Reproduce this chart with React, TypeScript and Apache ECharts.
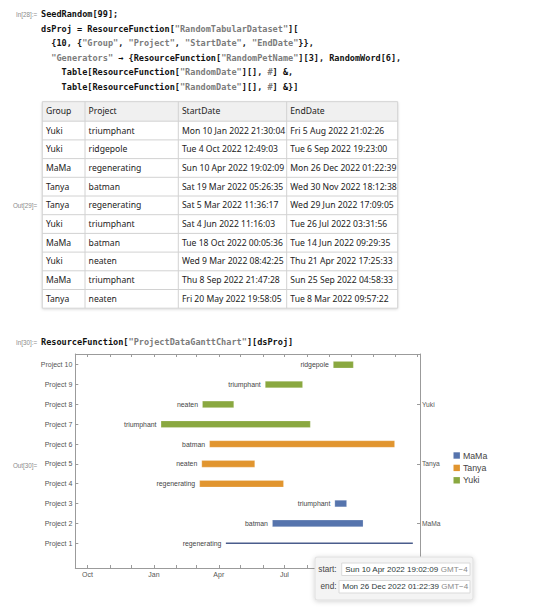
import React, { useEffect, useRef } from "react";
import * as echarts from "echarts";

// ---------- data ----------
const headers = ["Group", "Project", "StartDate", "EndDate"];
const groups = ["Yuki", "Yuki", "MaMa", "Tanya", "Tanya", "Yuki", "MaMa", "Yuki", "MaMa", "Tanya"];
const projects = ["triumphant", "ridgepole", "regenerating", "batman", "regenerating", "triumphant", "batman", "neaten", "triumphant", "neaten"];
const startDates = [
  "Mon 10 Jan 2022 21:30:04", "Tue 4 Oct 2022 12:49:03", "Sun 10 Apr 2022 19:02:09", "Sat 19 Mar 2022 05:26:35",
  "Sat 5 Mar 2022 11:36:17", "Sat 4 Jun 2022 11:16:03", "Tue 18 Oct 2022 00:05:36", "Wed 9 Mar 2022 08:42:25",
  "Thu 8 Sep 2022 21:47:28", "Fri 20 May 2022 19:58:05",
];
const endDates = [
  "Fri 5 Aug 2022 21:02:26", "Tue 6 Sep 2022 19:23:00", "Mon 26 Dec 2022 01:22:39", "Wed 30 Nov 2022 18:12:38",
  "Wed 29 Jun 2022 17:09:05", "Tue 26 Jul 2022 03:31:56", "Tue 14 Jun 2022 09:29:35", "Thu 21 Apr 2022 17:25:33",
  "Sun 25 Sep 2022 04:58:33", "Tue 8 Mar 2022 09:57:22",
];
const groupOrder = ["MaMa", "Tanya", "Yuki"];
const groupColors = ["#5674ad", "#e1952f", "#8aa840"];
const highlightedRow = 2; // row shown in the tooltip box
const timeZoneSuffix = " GMT\u22124";
const xAxisStart = "2021-09-14";
const xAxisEnd = "2023-01-05";
const xLabelDates = ["2021-10-01", "2022-01-01", "2022-04-01", "2022-07-01"];
const monthNames = ["Jan", "Feb", "Mar", "Apr", "May", "Jun", "Jul", "Aug", "Sep", "Oct", "Nov", "Dec"];

const codeCell1 = [
  { indent: 0, text: "SeedRandom[99];" },
  { indent: 0, text: 'dsProj = ResourceFunction["RandomTabularDataset"][' },
  { indent: 2, text: '{10, {"Group", "Project", "StartDate", "EndDate"}},' },
  { indent: 2, text: '"Generators" \u2192 {ResourceFunction["RandomPetName"][3], RandomWord[6],' },
  { indent: 4, text: 'Table[ResourceFunction["RandomDate"][], #] &,' },
  { indent: 4, text: 'Table[ResourceFunction["RandomDate"][], #] &}]' },
];
const codeCell2 = 'ResourceFunction["ProjectDataGanttChart"][dsProj]';
const cellLabels = [
  { text: "In[28]:=", y: 14.3 },
  { text: "Out[29]=", y: 205 },
  { text: "In[30]:=", y: 342 },
  { text: "Out[30]=", y: 465 },
];

// ---------- helpers ----------
function parseDate(s: string): number {
  const [, d, m, y, t] = s.split(" ");
  const [hh, mm, ss] = t.split(":").map(Number);
  return new Date(+y, monthNames.indexOf(m), +d, hh, mm, ss).getTime();
}
function parseDay(s: string): number {
  const [y, m, d] = s.split("-").map(Number);
  return new Date(y, m - 1, d).getTime();
}

const MONO = "'DejaVu Sans Mono', monospace";
const SANS = "'Liberation Sans', Arial, sans-serif";
const TSANS = "'Noto Sans', sans-serif";
const CW = 8.55 * 0.602;

function codeLine(text: string, x0: number, y: number): any[] {
  const parts = text.split(/("[^"]*"|#)/).filter((p) => p.length > 0);
  const out: any[] = [];
  let n = 0;
  for (const p of parts) {
    const gray = p.startsWith('"') || p === "#";
    out.push({
      type: "text",
      x: x0 + n * CW,
      y,
      style: {
        text: p,
        fontFamily: MONO,
        fontSize: 8.55,
        fontWeight: "bold",
        fill: gray ? "#7b7b7b" : "#111",
        verticalAlign: "middle",
      },
    });
    n += p.length;
  }
  return out;
}

export default function App() {
  const ref = useRef<HTMLDivElement>(null);
  useEffect(() => {
    document.body.style.margin = "0";
    const chart = echarts.init(ref.current!, null, { renderer: "svg" });

    // rows for the gantt: ordered by group, then by earliest date
    const rows = groups.map((g, i) => {
      const a = parseDate(startDates[i]);
      const b = parseDate(endDates[i]);
      return { i, g, lo: Math.min(a, b), hi: Math.max(a, b) };
    });
    rows.sort((p, q) => groupOrder.indexOf(p.g) - groupOrder.indexOf(q.g) || p.lo - q.lo);
    const yPos: Record<number, number> = {};
    rows.forEach((r, k) => (yPos[r.i] = k + 1));
    const groupAxis: Record<number, string> = {};
    groupOrder.forEach((g) => {
      const ys = rows.map((r, k) => (r.g === g ? k + 1 : 0)).filter((v) => v > 0);
      groupAxis[ys[0] + Math.floor((ys.length - 1) / 2)] = g;
    });
    const groupTicks = Object.keys(groupAxis).map(Number);
    const projectTicks = rows.map((_, k) => k + 1);

    const monthTicks: number[] = [];
    for (let k = 0; k < 16; k++) monthTicks.push(new Date(2021, 9 + k, 1).getTime());
    const quarterTicks = xLabelDates.map(parseDay);
    const xMin = parseDay(xAxisStart);
    const xMax = parseDay(xAxisEnd);

    const axisLine = { show: true, onZero: false, lineStyle: { color: "#9b9b9b", width: 1 } };

    const series = groupOrder.map((g, gi) => ({
      type: "custom",
      name: g,
      xAxisIndex: 0,
      yAxisIndex: 0,
      clip: false,
      itemStyle: { color: groupColors[gi] },
      encode: { x: [0, 1], y: 2 },
      data: rows.filter((r) => r.g === g).map((r) => [r.lo, r.hi, yPos[r.i], r.i]),
      renderItem: (params: any, api: any) => {
        const p0 = api.coord([api.value(0), api.value(2)]);
        const p1 = api.coord([api.value(1), api.value(2)]);
        const idx = api.value(3);
        const hl = idx === highlightedRow;
        const h = hl ? 1.6 : 6.6;
        return {
          type: "group",
          children: [
            {
              type: "rect",
              shape: { x: p0[0], y: p0[1] - h / 2, width: p1[0] - p0[0], height: h },
              style: hl
                ? { fill: "#4a5d8c" }
                : { fill: groupColors[gi], stroke: "rgba(255,255,255,0.35)", lineWidth: 0.6 },
            },
            {
              type: "text",
              style: {
                text: projects[idx],
                x: p0[0] - 4.5,
                y: p0[1],
                align: "right",
                verticalAlign: "middle",
                fontFamily: SANS,
                fontSize: 6.9,
                fill: "#444",
              },
            },
          ],
        };
      },
    }));

    // ---------- graphic: notebook cells ----------
    const graphics: any[] = [];
    cellLabels.forEach((c) =>
      graphics.push({
        type: "text",
        x: 37.3,
        y: c.y,
        style: { text: c.text, fontFamily: SANS, fontSize: 6.3, fill: "#8a8a8a", align: "right", verticalAlign: "middle" },
      })
    );
    const codeY = [14.3, 28.7, 43, 57.5, 72, 86.5];
    codeCell1.forEach((l, k) => graphics.push(...codeLine(l.text, 41 + l.indent * CW, codeY[k])));
    graphics.push(...codeLine(codeCell2, 41, 341.7));

    // table
    const colX = [42.3, 85, 178.3, 286.7, 397.7];
    const tTop = 101.7;
    const headH = 19.5;
    const rowH = 18.7;
    const tBottom = tTop + headH + rowH * groups.length;
    graphics.push({
      type: "rect",
      shape: { x: colX[0], y: tTop, width: colX[4] - colX[0], height: tBottom - tTop },
      style: { fill: "#fff", shadowBlur: 3, shadowColor: "rgba(0,0,0,0.18)", shadowOffsetY: 1 },
    });
    graphics.push({
      type: "rect",
      shape: { x: colX[0], y: tTop, width: colX[4] - colX[0], height: headH },
      style: { fill: "#f0f0f0" },
    });
    for (let r = 0; r <= groups.length + 1; r++) {
      const y = r === 0 ? tTop : tTop + headH + rowH * (r - 1);
      graphics.push({
        type: "line",
        shape: { x1: colX[0], y1: y, x2: colX[4], y2: y },
        style: { stroke: "#d2d2d2", lineWidth: 1 },
      });
    }
    colX.forEach((x) =>
      graphics.push({
        type: "line",
        shape: { x1: x, y1: tTop, x2: x, y2: tBottom },
        style: { stroke: "#d2d2d2", lineWidth: 1 },
      })
    );
    const cols = [groups, projects, startDates, endDates];
    headers.forEach((h, c) =>
      graphics.push({
        type: "text",
        x: colX[c] + 3.6,
        y: tTop + headH / 2,
        style: { text: h, fontFamily: TSANS, fontSize: 8.6, fill: "#222", verticalAlign: "middle" },
      })
    );
    cols.forEach((col, c) =>
      col.forEach((v, r) =>
        graphics.push({
          type: "text",
          x: colX[c] + 3.6,
          y: tTop + headH + rowH * r + rowH / 2,
          style: { text: v, fontFamily: TSANS, fontSize: 8.6, fill: "#222", verticalAlign: "middle" },
        })
      )
    );

    // tooltip-like box for highlighted project
    const tip = [
      { label: "start:", value: startDates[highlightedRow], fx: 341.7, fy: 563, fw: 128.3 },
      { label: "end:", value: endDates[highlightedRow], fx: 339, fy: 580.5, fw: 131 },
    ];
    graphics.push({
      type: "rect",
      z: 100,
      shape: { x: 315, y: 557, width: 158, height: 43, r: 2 },
      style: { fill: "#f4f4f4", stroke: "#dedede", lineWidth: 1, shadowBlur: 5, shadowColor: "rgba(0,0,0,0.18)", shadowOffsetY: 1 },
    });
    tip.forEach((t) => {
      graphics.push({
        type: "rect",
        z: 101,
        shape: { x: t.fx, y: t.fy, width: t.fw, height: 12.5 },
        style: { fill: "#fff", stroke: "#dadada", lineWidth: 1 },
      });
      graphics.push({
        type: "text",
        z: 102,
        x: 336.5,
        y: t.fy + 6.3,
        style: { text: t.label, fontFamily: SANS, fontSize: 8.2, fill: "#444", align: "right", verticalAlign: "middle" },
      });
      graphics.push({
        type: "text",
        z: 102,
        x: t.fx + 3.5,
        y: t.fy + 6.3,
        style: {
          text: "{a|" + t.value + "}{b|" + timeZoneSuffix + "}",
          verticalAlign: "middle",
          rich: {
            a: { fontFamily: SANS, fontSize: 8, fill: "#2c3a3a", color: "#2c3a3a" },
            b: { fontFamily: SANS, fontSize: 8, fill: "#8a8a8a", color: "#8a8a8a" },
          },
        },
      });
    });

    const tickStyle = { show: true, inside: true, length: 3, lineStyle: { color: "#9b9b9b" } };

    const option: any = {
      animation: false,
      backgroundColor: "#fff",
      grid: { left: 75.3, right: 120, top: 354, bottom: 43, containLabel: false },
      legend: {
        data: groupOrder,
        orient: "vertical",
        left: 448.5,
        top: 446,
        icon: "rect",
        itemWidth: 6.4,
        itemHeight: 6.4,
        itemGap: 3.4,
        textStyle: { fontFamily: SANS, fontSize: 8.8, color: "#444", padding: [0, 0, 0, -2] },
      },
      xAxis: [
        {
          type: "value",
          position: "bottom",
          min: xMin,
          max: xMax,
          scale: true,
          axisLine,
          splitLine: { show: false },
          axisTick: { ...tickStyle, customValues: monthTicks },
          axisLabel: {
            customValues: quarterTicks,
            formatter: (v: number) => monthNames[new Date(v).getMonth()],
            fontFamily: SANS,
            fontSize: 7,
            color: "#555",
            margin: 3,
          },
        },
        {
          type: "value",
          position: "top",
          min: xMin,
          max: xMax,
          scale: true,
          axisLine,
          splitLine: { show: false },
          axisTick: { ...tickStyle, customValues: monthTicks },
          axisLabel: { show: false },
        },
      ],
      yAxis: [
        {
          type: "value",
          position: "left",
          min: -0.25,
          max: 10.54,
          axisLine,
          splitLine: { show: false },
          axisTick: { ...tickStyle, customValues: projectTicks },
          axisLabel: {
            customValues: projectTicks,
            formatter: (v: number) => "Project " + v,
            fontFamily: SANS,
            fontSize: 7,
            color: "#555",
            margin: 3,
          },
        },
        {
          type: "value",
          position: "right",
          min: -0.25,
          max: 10.54,
          axisLine,
          splitLine: { show: false },
          axisTick: { ...tickStyle, customValues: groupTicks },
          axisLabel: {
            customValues: groupTicks,
            formatter: (v: number) => groupAxis[v] || "",
            fontFamily: SANS,
            fontSize: 6.7,
            color: "#555",
            margin: 2,
          },
        },
      ],
      series,
      graphic: { elements: graphics },
    };

    chart.setOption(option);
    return () => chart.dispose();
  }, []);
  return <div ref={ref} style={{ width: 540, height: 611 }} />;
}
